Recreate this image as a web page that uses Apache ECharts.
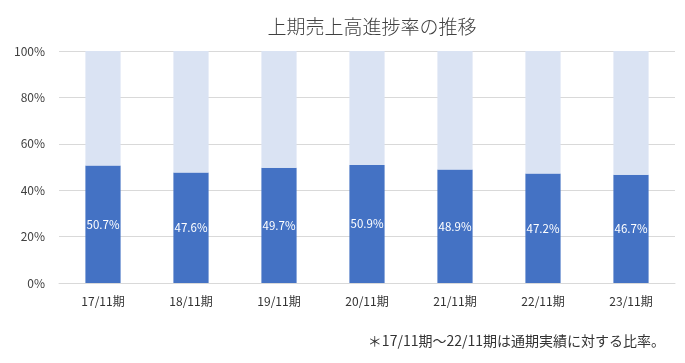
<!DOCTYPE html>
<html><head><meta charset="utf-8">
<script src="https://cdn.jsdelivr.net/npm/echarts@6/dist/echarts.min.js"></script>
<style>html,body{margin:0;padding:0;background:#fff}#c{width:685px;height:363px}</style>
</head><body><div id="c"></div>
<script>
const categories = ['17/11期','18/11期','19/11期','20/11期','21/11期','22/11期','23/11期'];
const progress = [50.7, 47.6, 49.7, 50.9, 48.9, 47.2, 46.7];
const remainder = progress.map(v => +(100 - v).toFixed(1));
const yTicks = [0, 20, 40, 60, 80, 100];
const font = '"Noto Sans CJK JP", "Noto Sans", sans-serif';
const chart = echarts.init(document.getElementById('c'));
chart.setOption({
  animation: false,
  title: {text: '上期売上高進捗率の推移', left: 367, textAlign: 'center', top: 12,
    textStyle: {fontFamily: font, fontSize: 19, fontWeight: 300, color: '#404040'}},
  graphic: [{type: 'text', right: 20, top: 334,
    style: {text: '＊17/11期～22/11期は通期実績に対する比率。', font: '14px ' + font, fill: '#333333'}}],
  grid: {left: 59, right: 10, top: 51, bottom: 80, containLabel: false},
  xAxis: {type: 'category', data: categories,
    axisLine: {lineStyle: {color: '#D9D9D9'}}, axisTick: {show: false},
    axisLabel: {fontFamily: font, fontSize: 12, color: '#333333', margin: 12}},
  yAxis: {type: 'value', min: yTicks[0], max: yTicks[yTicks.length-1], interval: 20,
    axisLine: {show: false}, axisTick: {show: false},
    splitLine: {lineStyle: {color: '#D9D9D9'}},
    axisLabel: {formatter: '{value}%', fontFamily: font, fontSize: 12, color: '#404040', margin: 14}},
  series: [
    {type: 'bar', stack: 's', data: progress, barWidth: '40%', itemStyle: {color: '#4472C4'},
      label: {show: true, position: 'inside', formatter: p => p.value.toFixed(1) + '%',
        color: '#fff', fontFamily: font, fontSize: 11.5}},
    {type: 'bar', stack: 's', data: remainder, barWidth: '40%', itemStyle: {color: '#DAE3F3'}}
  ]
});
</script></body></html>
